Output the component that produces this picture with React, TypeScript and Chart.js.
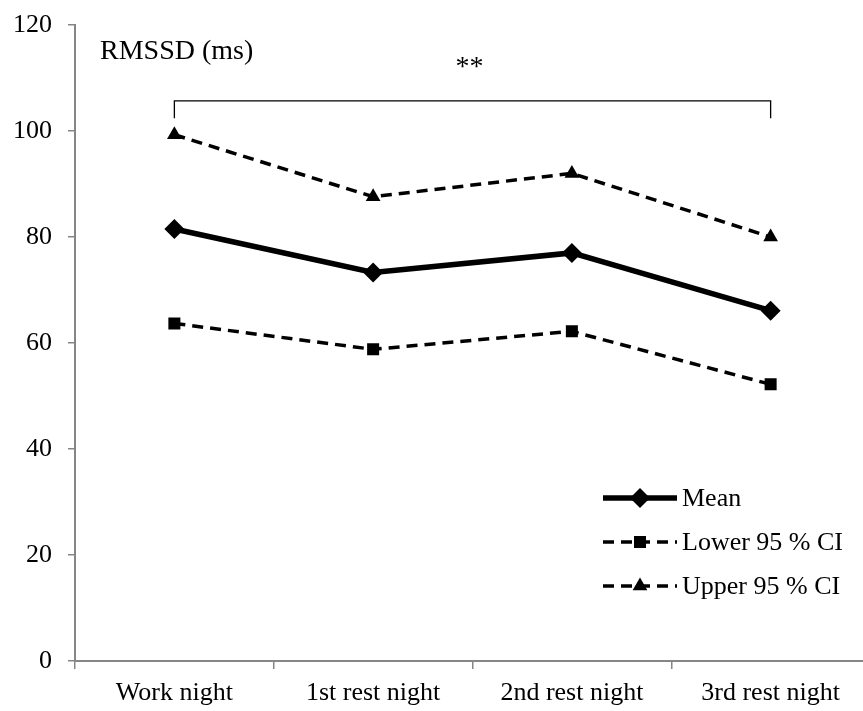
import React, { useEffect, useRef } from "react";
import { Chart, registerables } from "chart.js";

Chart.register(...registerables);

const categories = ["Work night", "1st rest night", "2nd rest night", "3rd rest night"];
const meanValues = [81.5, 73.3, 77.0, 66.1];
const lowerValues = [63.7, 58.8, 62.2, 52.2];
const upperValues = [99.3, 87.6, 92.0, 80.0];
const yTicks = [0, 20, 40, 60, 80, 100, 120];
const seriesNames = ["Mean", "Lower 95 % CI", "Upper 95 % CI"];
const axisTitle = "RMSSD (ms)";
const significance = "**";
const bracketTop = 105.7;
const bracketBottom = 102.4;

const FONT = "'Times New Roman', 'Liberation Serif', serif";
const GRAY = "#868686";

function drawMarker(ctx: CanvasRenderingContext2D, style: string, r: number, x: number, y: number) {
  ctx.beginPath();
  if (style === "rectRot") {
    ctx.moveTo(x, y - r);
    ctx.lineTo(x + r, y);
    ctx.lineTo(x, y + r);
    ctx.lineTo(x - r, y);
  } else if (style === "rect") {
    const s = Math.SQRT1_2 * r;
    ctx.rect(x - s, y - s, 2 * s, 2 * s);
  } else {
    ctx.moveTo(x, y - r);
    ctx.lineTo(x + r * 0.866, y + r * 0.5);
    ctx.lineTo(x - r * 0.866, y + r * 0.5);
  }
  ctx.closePath();
  ctx.fill();
}

const annotationPlugin = {
  id: "annotations",
  afterDatasetsDraw(chart: any) {
    const ctx: CanvasRenderingContext2D = chart.ctx;
    const xs = chart.scales.x;
    const ys = chart.scales.y;
    const area = chart.chartArea;
    ctx.save();
    // bracket
    const x0 = xs.getPixelForValue(0);
    const x1 = xs.getPixelForValue(categories.length - 1);
    const yt = ys.getPixelForValue(bracketTop);
    const yb = ys.getPixelForValue(bracketBottom);
    ctx.strokeStyle = "#000";
    ctx.lineWidth = 1.3;
    ctx.setLineDash([]);
    ctx.beginPath();
    ctx.moveTo(x0, yb);
    ctx.lineTo(x0, yt);
    ctx.lineTo(x1, yt);
    ctx.lineTo(x1, yb);
    ctx.stroke();
    // significance
    ctx.fillStyle = "#000";
    ctx.font = `28px ${FONT}`;
    ctx.textAlign = "center";
    ctx.textBaseline = "middle";
    ctx.fillText(significance, (x0 + x1) / 2 - 3, ys.getPixelForValue(111.9));
    // axis title
    ctx.font = `28px ${FONT}`;
    ctx.textAlign = "left";
    ctx.fillText(axisTitle, area.left + 25, ys.getPixelForValue(115));
    // legend
    const lx0 = area.left + 528;
    const lx1 = area.left + 602;
    const rows = [area.top + 473, area.top + 517, area.top + 561];
    chart.data.datasets.forEach((ds: any, i: number) => {
      const y = rows[i];
      ctx.strokeStyle = ds.borderColor;
      ctx.lineWidth = ds.borderWidth;
      ctx.setLineDash(ds.borderDash || []);
      ctx.lineCap = "butt";
      ctx.beginPath();
      ctx.moveTo(lx0, y);
      ctx.lineTo(lx1, y);
      ctx.stroke();
      ctx.setLineDash([]);
      ctx.fillStyle = ds.pointBackgroundColor;
      drawMarker(ctx, ds.pointStyle, ds.pointRadius, (lx0 + lx1) / 2, y);
      ctx.fillStyle = "#000";
      ctx.font = `26px ${FONT}`;
      ctx.textAlign = "left";
      ctx.textBaseline = "middle";
      ctx.fillText(seriesNames[i], lx1 + 5, y + 1);
    });
    ctx.restore();
  },
};

export default function App() {
  const ref = useRef<HTMLCanvasElement>(null);
  useEffect(() => {
    if (!ref.current) return;
    const chart = new Chart(ref.current, {
      type: "line",
      data: {
        labels: categories,
        datasets: [
          {
            label: seriesNames[0],
            data: meanValues,
            borderColor: "#000",
            backgroundColor: "#000",
            pointBackgroundColor: "#000",
            pointBorderColor: "#000",
            borderWidth: 5.5,
            pointStyle: "rectRot",
            pointRadius: 10,
            pointBorderWidth: 0,
            tension: 0,
          },
          {
            label: seriesNames[1],
            data: lowerValues,
            borderColor: "#000",
            backgroundColor: "#000",
            pointBackgroundColor: "#000",
            pointBorderColor: "#000",
            borderWidth: 3.5,
            borderDash: [11, 7],
            pointStyle: "rect",
            pointRadius: 8.5,
            pointBorderWidth: 0,
            tension: 0,
          },
          {
            label: seriesNames[2],
            data: upperValues,
            borderColor: "#000",
            backgroundColor: "#000",
            pointBackgroundColor: "#000",
            pointBorderColor: "#000",
            borderWidth: 3.5,
            borderDash: [11, 7],
            pointStyle: "triangle",
            pointRadius: 8.5,
            pointBorderWidth: 0,
            tension: 0,
          },
        ],
      },
      options: {
        animation: false,
        responsive: false,
        maintainAspectRatio: false,
        layout: { padding: { top: 25, right: 5, left: 0, bottom: 0 } },
        plugins: {
          legend: { display: false },
          tooltip: { enabled: false },
        },
        scales: {
          x: {
            offset: true,
            grid: {
              offset: true,
              drawOnChartArea: false,
              drawTicks: true,
              tickLength: 8,
              color: GRAY,
              lineWidth: 1.5,
            },
            border: { color: GRAY, width: 2 },
            ticks: {
              color: "#000",
              font: { family: FONT, size: 26 },
              padding: 9,
              maxRotation: 0,
            },
            afterFit(scale: any) {
              scale.height = 50;
              scale.paddingLeft = 0;
              scale.paddingRight = 0;
            },
          },
          y: {
            min: 0,
            max: 120,
            afterBuildTicks(scale: any) {
              scale.ticks = yTicks.map((v) => ({ value: v }));
            },
            grid: {
              drawOnChartArea: false,
              drawTicks: true,
              tickLength: 7,
              color: GRAY,
              lineWidth: 1.5,
            },
            border: { color: GRAY, width: 2 },
            ticks: {
              color: "#000",
              font: { family: FONT, size: 26 },
              padding: 16,
            },
            afterFit(scale: any) {
              scale.width = 75;
              scale.paddingTop = 0;
              scale.paddingBottom = 0;
            },
          },
        },
      },
      plugins: [annotationPlugin],
    });
    return () => chart.destroy();
  }, []);
  return (
    <div style={{ position: "fixed", left: 0, top: 0, width: 863, height: 711, overflow: "hidden", background: "#fff" }}>
      <canvas ref={ref} width={880} height={711} style={{ width: 880, height: 711, display: "block" }} />
    </div>
  );
}
